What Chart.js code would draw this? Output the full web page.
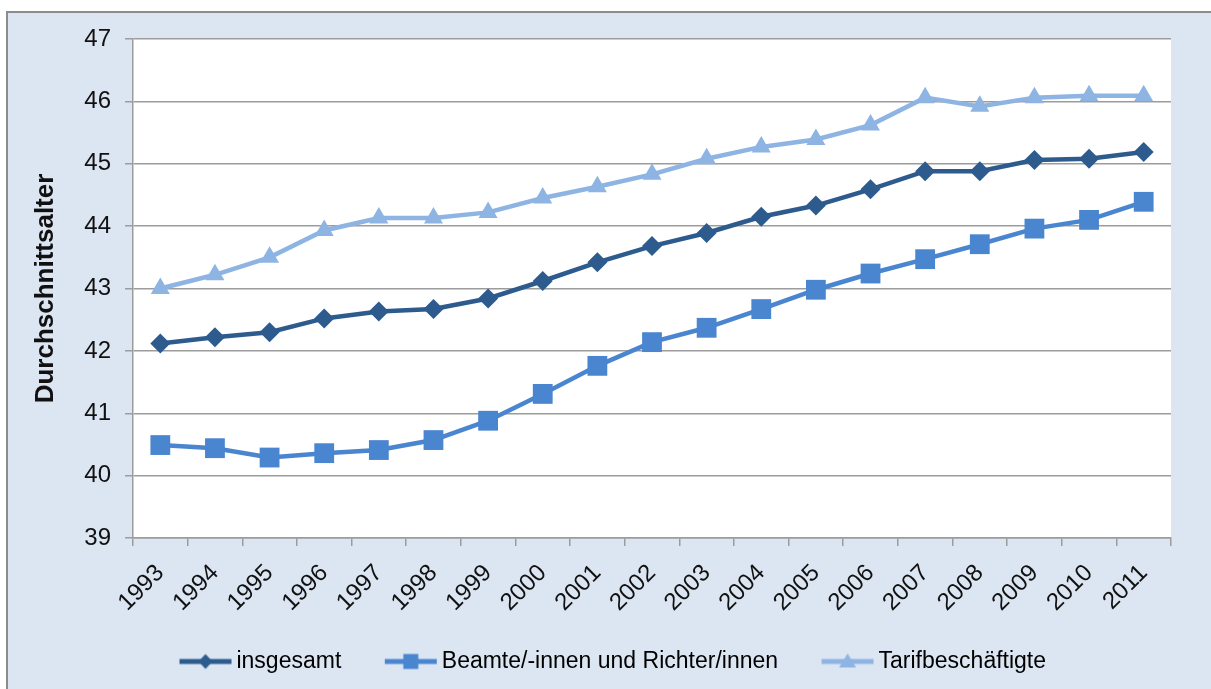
<!DOCTYPE html>
<html lang="de">
<head>
<meta charset="utf-8">
<title>Durchschnittsalter 1993–2011</title>
<script src="https://cdn.jsdelivr.net/npm/chart.js@4.4.1/dist/chart.umd.min.js"></script>
<style>
  html, body { margin: 0; padding: 0; background: #ffffff; overflow: hidden; }
  body { width: 1211px; height: 689px; position: relative; }
  #frame {
    position: absolute; left: 6px; top: 11px; width: 1300px; height: 800px;
    background: #dce6f2; border: 2px solid #8c8c8c;
  }
  #chart { position: absolute; left: 0; top: 0; }
</style>
</head>
<body>
<div id="frame"></div>
<canvas id="chart" width="1211" height="689"></canvas>
<script>
// Jahre (Kategorien)
const years = ['1993','1994','1995','1996','1997','1998','1999','2000','2001','2002',
               '2003','2004','2005','2006','2007','2008','2009','2010','2011'];

// Durchschnittsalter je Gruppe
const insgesamt = [42.12, 42.22, 42.30, 42.52, 42.63, 42.67, 42.84, 43.12, 43.42, 43.68,
                   43.89, 44.15, 44.33, 44.59, 44.88, 44.88, 45.06, 45.08, 45.19];
const beamte    = [40.49, 40.44, 40.29, 40.36, 40.41, 40.57, 40.88, 41.31, 41.76, 42.14,
                   42.37, 42.67, 42.98, 43.24, 43.47, 43.71, 43.96, 44.10, 44.39];
const tarif     = [43.00, 43.22, 43.50, 43.93, 44.13, 44.13, 44.22, 44.45, 44.63, 44.83,
                   45.08, 45.27, 45.39, 45.62, 46.06, 45.92, 46.06, 46.09, 46.09];

// Achsenbereich
const yMin = 39, yMax = 47, yStep = 1;

const FONT = '"Liberation Sans", Arial, Helvetica, sans-serif';
const GRID = '#9c9c9c';
const TEXT = '#111111';

const C_INS = '#2d5b8e';
const C_BEA = '#4a85cf';
const C_TAR = '#8db4e2';

const PAD_LEFT = 15;

// Legendensymbol: Linie mit Markierung in der Mitte
const LEG_BOX = 85;           // Breite des Symbolbereichs
const LEG_IMG = LEG_BOX + 15; // Bildbreite
function legendSymbol(color, marker) {
  const c = document.createElement('canvas');
  c.width = LEG_IMG; c.height = 24;
  const g = c.getContext('2d');
  const x1 = LEG_IMG - 1, x0 = x1 - 52, cy = 12, cx = (x0 + x1) / 2;
  g.strokeStyle = color; g.lineWidth = 5; g.lineCap = 'butt';
  g.beginPath(); g.moveTo(x0, cy); g.lineTo(x1, cy); g.stroke();
  g.fillStyle = color;
  g.beginPath();
  if (marker === 'diamond') {
    g.moveTo(cx, cy - 7.5); g.lineTo(cx + 7, cy); g.lineTo(cx, cy + 7.5); g.lineTo(cx - 7, cy);
  } else if (marker === 'square') {
    g.rect(cx - 7.5, cy - 7.5, 15, 15);
  } else {
    g.moveTo(cx, cy - 8); g.lineTo(cx + 8.5, cy + 6); g.lineTo(cx - 8.5, cy + 6);
  }
  g.closePath(); g.fill();
  return c;
}

const symbols = [
  legendSymbol(C_INS, 'diamond'),
  legendSymbol(C_BEA, 'square'),
  legendSymbol(C_TAR, 'triangle')
];

// weiße Zeichenfläche hinter dem Diagramm
const plotBackground = {
  id: 'plotBackground',
  beforeDraw(ch) {
    const a = ch.chartArea, ctx = ch.ctx;
    ctx.save();
    ctx.fillStyle = '#ffffff';
    ctx.fillRect(a.left, a.top, a.right - a.left, a.bottom - a.top);
    ctx.restore();
  }
};

const chart = new Chart(document.getElementById('chart'), {
  type: 'line',
  data: {
    labels: years,
    datasets: [
      {
        label: 'insgesamt', data: insgesamt,
        borderColor: C_INS, backgroundColor: C_INS, borderWidth: 4.5,
        pointStyle: 'rectRot', pointRadius: 10, pointHoverRadius: 10,
        pointBorderWidth: 0, tension: 0
      },
      {
        label: 'Beamte/-innen und Richter/innen', data: beamte,
        borderColor: C_BEA, backgroundColor: C_BEA, borderWidth: 4.5,
        pointStyle: 'rect', pointRadius: 14, pointHoverRadius: 14,
        pointBorderWidth: 0, tension: 0
      },
      {
        label: 'Tarifbeschäftigte', data: tarif,
        borderColor: C_TAR, backgroundColor: C_TAR, borderWidth: 4.5,
        pointStyle: 'triangle', pointRadius: 11, pointHoverRadius: 11,
        pointBorderWidth: 0, tension: 0
      }
    ]
  },
  plugins: [plotBackground],
  options: {
    responsive: false,
    animation: false,
    devicePixelRatio: 1,
    layout: { padding: { left: PAD_LEFT, right: 40, top: 39, bottom: 6 } },
    plugins: {
      tooltip: { enabled: false },
      legend: {
        position: 'bottom',
        labels: {
          usePointStyle: true,
          pointStyleWidth: LEG_BOX,
          padding: 4,
          color: TEXT,
          font: { family: FONT, size: 23 },
          generateLabels(ch) {
            return ch.data.datasets.map((ds, i) => ({
              text: ds.label,
              pointStyle: symbols[i],
              fillStyle: ds.borderColor,
              strokeStyle: ds.borderColor,
              lineWidth: 0,
              hidden: false,
              datasetIndex: i
            }));
          }
        }
      }
    },
    scales: {
      x: {
        offset: true,
        grid: {
          offset: true, drawOnChartArea: false, drawTicks: true,
          tickLength: 8, color: GRID, lineWidth: 1.5
        },
        border: { color: GRID, width: 1.5 },
        ticks: {
          autoSkip: false, maxRotation: 45, minRotation: 45, padding: 13,
          color: TEXT, font: { family: FONT, size: 24 }
        },
        afterFit(scale) { scale.height = 108; }
      },
      y: {
        min: yMin, max: yMax,
        grid: { color: GRID, lineWidth: 1.5, tickLength: 8, drawTicks: true },
        border: { color: GRID, width: 1.5 },
        ticks: {
          stepSize: yStep, padding: 14, color: TEXT,
          font: { family: FONT, size: 24 }
        },
        title: {
          display: true, text: 'Durchschnittsalter', color: TEXT,
          font: { family: FONT, size: 26, weight: 'bold' },
          padding: { top: 15, bottom: 0 }
        },
        afterFit(scale) { scale.width = 133 - PAD_LEFT; }
      }
    }
  }
});
</script>
</body>
</html>
